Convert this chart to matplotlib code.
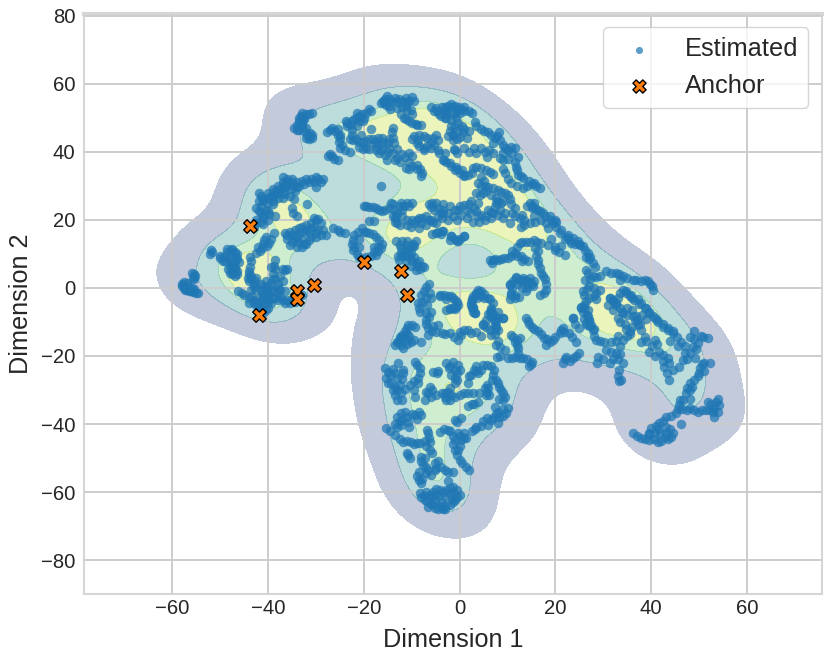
import numpy as np
import matplotlib
matplotlib.use("Agg")
import matplotlib.pyplot as plt
from matplotlib.colors import ListedColormap, BoundaryNorm
import seaborn as sns

# values, one list per part of the embedding
far_left = [(-58,1),(-57.5,0),(-57,1.5),(-57,-0.5),(-56.5,-1),(-56,0),(-55.8,-1.2),(-55,-1.5),(-56,4.5),(-55.3,3.5),(-55.5,2.5),
    (-58,0.5),(-57.3,-0.5),(-56.7,0.7),(-56,-0.8),(-55.5,-0.3),(-57.5,1.8),(-55.5,4),(-55.8,3),(-54.6,-1.5)]
left_small = [(-52,11),(-52.2,10),(-50,9.5),(-49.5,8),(-48.5,11.5),(-47.5,11.5),(-47,10.5),(-46.5,10),(-48,9),(-47.5,7),(-48,6),(-47.5,5),(-47,5.5),(-46.5,4),(-48,4.5),(-47,3.5),(-46,7.5),
    (-51.8,10.5),(-50,8.8),(-49.3,9),(-48.5,10.5),(-47.5,10),(-46.8,9),(-47,8),(-48,7.5),(-47,6),(-48.3,5.5),(-47.5,4),(-46.5,5),(-47.8,11),(-49,7.8),(-46.5,8.5)]
left_ring = [(-43.6,7.8),(-43.8,6),(-44,4),(-44.3,3),(-43.5,2.5),(-42.5,3),(-43,1),(-43.5,-0.5),(-41.5,1),(-40.5,2),(-39.5,1.5),(-40.5,-0.5),(-41,-1.5),(-40,-2.5),(-38,1),(-38,-1.5),(-39,-1),(-39,4),(-39.5,6),(-38.5,5.5),(-37.5,3.5),(-37,2),(-36.5,-0.8),
    (-46.4,-1),(-45,-2),(-44,-3),(-44,-4.5),(-43,-3.5),(-42.5,-5),(-42,-6),(-41,-5),(-40,-4),(-40,-6),(-41,-7.5),(-42,-7.5),(-39,-3),(-38,-3.5),(-37,-3.5),(-36,-3.5),(-35,-3.5),(-34,-3),(-33,-2),
    (-38.6,8.3),(-37,5.6),(-36,5.6),(-40.5,15),(-38.8,16),(-39.8,13.2),(-41.2,11.8),(-42.6,10.3),
    (-44,5),(-43.5,3.5),(-44,2),(-42.8,2),(-43,0.3),(-42.5,-0.5),(-41,0.5),(-40,0.5),(-41.5,-0.7),(-40,-1.5),(-39.5,-0.3),(-41,-2.5),(-39,2.5),(-38.5,2.5),(-38,0),(-37.5,-0.5),(-43.5,-2.5),(-43,-4.5),(-42,-4),(-41,-3.5),(-41.5,-6),(-40.5,-6.5),(-42,-3),(-40,-3.2),(-39.5,-4.5),(-38.5,-3),(-37.5,-2.8),(-36.5,-4.5),(-35.5,-4.3),(-34.5,-4),(-45.5,-1.5),(-40.8,14),(-40.2,12.2),(-41.8,10.8),(-42.2,12),(-41,13),(-39.5,14.5),(-38.7,6.5),(-36.5,5.2),(-43.8,9)]
left_arm = [(-43,18),(-42.5,20),(-41,21),(-42,22.5),(-41.5,24),(-40.5,23),(-40,25),(-39,27),(-40,28),(-39,29),(-38,30),(-37,31),(-36,32),(-36,30),(-35,29),(-34.5,28.5),(-37,28),(-38,26.5),(-41.5,27),(-42,28),(-39,24.5),(-40,20),(-38.5,21),(-39.8,21.6),
    (-34,31),(-33,31.5),(-32,32),(-31,32),(-30,32.5),(-28.5,32),(-30,29.5),(-37,30),(-35.5,27),(-34.6,26),(-35,23.5),(-34.8,22),(-31.8,24.5),(-33.9,21),
    (-42.5,19),(-41.5,19.5),(-41,20.5),(-41.5,22),(-42.5,23.5),(-42,25.5),(-41,25.5),(-40,26.5),(-41,26),(-38.5,27.5),(-39.5,27),(-38.5,28.5),(-37.5,29),(-36.5,29.5),(-35.5,30.5),(-35,31),(-37,32.5),(-36,31),(-35,32),(-34,29.5),(-33.5,30),(-32.5,30.5),(-31.5,31),(-29,31),(-29.5,32),(-30.5,31),(-38,28),(-37,26.5),(-39,25.5),(-36.5,27.5),(-40,22.5),(-41,18.8)]
left_block = [(-36.5,16),(-36,14.5),(-35,15.5),(-35,13.5),(-34.5,17),(-33.5,16),(-33,14.5),(-32.5,12.8),(-34,12),(-32,17),(-31.5,16.5),(-31,19),(-30,20),(-29,19),(-28.5,17),(-30,16),(-29,15.5),(-31,15),(-33,18),(-32,18.5),(-26.5,17.5),(-25.5,17),(-25,16.5),(-24,16),
    (-36,15.5),(-35.5,16.5),(-35.5,12.5),(-34.5,14.5),(-33.8,13.5),(-33.5,17.5),(-34,15),(-32.8,16.5),(-31.5,14),(-31,17.5),(-30.5,18),(-29.5,17),(-30,15),(-28,15.5),(-32,13),(-33,12),(-30.5,20.5),(-29.5,20.3)]
mid_ring = [(-22.5,13),(-22,15.5),(-20.5,17.5),(-19,16),(-17.5,15),(-16.3,13),(-17,10.8),(-18.5,9.5),(-20,8.5),(-21.5,10),(-22.3,11),(-21,12),(-18,12),(-19.5,16.5),(-17,12),(-18.9,19.6),(-17.9,19.7),
    (-22.3,14.2),(-21.3,16.5),(-20,16.5),(-18.2,15.8),(-16.8,14),(-16.5,11.8),(-17.5,9.8),(-19.5,9),(-21,9.2),(-22,12),(-21,14.5),(-18,10.5)]
mid_strand = [(-20,24),(-18.9,23.8),(-17.5,23.5),(-16.2,22.5),(-14.8,23.5),(-14.4,25),(-13,22),(-12.3,25),(-11,25),(-10,24.8),(-14,21),(-13,19),(-13.5,20.5),(-9.9,20),(-10.2,18),(-8.5,20.5),(-7.1,21),(-6,20),(-5,19),(-4,22),(-5.7,25),(-6.4,24.5),(-5.3,23),(-3.6,16.7),(-5,16.2),(-5.7,15.7),(-1.9,15.2),(-0.5,13.7),(0.9,15.2),(-16.5,30),
    (-19.5,24),(-18.2,23.7),(-16.8,23),(-15.5,23),(-13.7,23),(-14,24.5),(-13.3,21),(-13.5,19.5),(-12.5,24),(-11.7,24),(-10.5,24),(-12,23),(-12,21),(-12.5,18.5),(-11,20),(-11,18.5),(-9,20),(-8,19),(-7.8,20.5),(-6.5,20),(-5.5,19.5),(-4.5,21),(-3.8,20.5),(-6,23.7),(-5,25),(-4.5,23.5),(-8.5,17.5),(-9.5,19),(-7,18.5),(-4.5,16.5),(-4,15.8),(-1,14.3),(-2,14),(0,14.5),(-3.5,23),(-2.5,22),(-2.5,20),(-3.5,24.5),(-2,24),(-1,23),(-1.5,21)]
mid_block = [(-13.4,13.7),(-12,13.7),(-11,13.7),(-9.2,13.7),(-9.5,12.3),(-12.3,11.8),(-11.2,10.8),(-10.2,10.3),(-12,9.3),(-12.7,8.3),(-11.2,8.3),(-9.9,7.8),(-8.9,7.4),(-7.8,6.4),(-9.2,5.4),(-10.2,6.4),
    (-12.5,12.5),(-11,12.5),(-9.8,13),(-10.5,11.5),(-11.5,9.8),(-11,9.3),(-10.3,9),(-12.2,10.3),(-9.5,9),(-9,6.5),(-8.2,5.5),(-8.5,8),(-10,12),(-12.8,9.3),(-7.5,6)]
top_left = [(-30.8,51.5),(-32.2,51),(-33.2,50.5),(-32.9,48.5),(-33.9,48),(-34.6,47),(-33.6,46.5),(-32.2,47),(-31.9,45),(-30.8,44),(-31.5,43.6),(-32.5,49.5),
    (-31.5,51),(-32.8,49.5),(-33.5,49),(-33,47.5),(-34,46.5),(-32.5,46),(-32,44),(-31.2,45.5),(-33.5,50),(-33,51.3),(-30.8,45)]
top_arc = [(-27.8,45.8),(-26.6,47),(-25.5,46.6),(-24.9,45),(-25.2,43),(-24.9,41),(-23,40),(-27.6,38.7),(-26.6,38.7),(-25.5,37.7),(-23.8,49),(-22.8,48),(-22,49.5),(-21,50.5),(-19.6,51.5),(-18.5,52),(-21.4,51.5),(-20.3,49),(-23,43.6),(-21.7,43.6),(-20.3,43),(-18.9,43.6),(-17.5,43),(-16.2,44),(-14.8,43.6),(-13.7,42.6),(-13,40.7),(-14.8,41.2),(-16.2,41.7),(-16.9,39.7),(-15.1,37.7),(-13,38.2),(-12,39.2),(-9.9,38.7),(-11.2,35.3),(-9.9,35.8),(-8.9,36),(-7.8,33.8),(-20.3,40.7),(-18.9,40.7),(-20.7,45),(-22.4,45),(-18.6,46.6),
    (-16.5,54.4),(-15.1,56.4),(-15.8,54.4),(-14.1,54.9),(-12.7,55.4),(-11.3,55.9),(-9.9,56.2),(-14.8,53.4),(-13,52.9),(-11.3,53.4),(-10.2,52.4),(-12.3,51),(-11.2,49.5),(-9.9,48.5),(-8.9,48),(-14.1,45.8),(-8.5,45),(-6.8,44),(-5,45),(-9.9,43.6),(-8.5,41.7),(-6.8,41.7),(-5.4,42),
    (-27,46.5),(-26,46),(-25.5,45),(-25,44),(-24.5,42),(-26.2,38),(-27,39.2),(-24,40.5),(-23.5,48.5),(-22.5,49),(-21.5,50),(-20.5,51),(-20,50),(-19,52.5),(-21,49),(-21.5,47.5),(-22.5,46.5),(-23.5,47.5),(-22.3,43.5),(-21,43),(-19.5,43.2),(-18.2,43.8),(-17,44),(-16,42.8),(-15,42.5),(-14,44),(-17.3,41.5),(-16.5,40.5),(-15.5,39),(-15,40),(-14,39.5),(-13.5,37.5),(-12.5,37),(-11.5,38.5),(-10.5,39.5),(-10.5,37),(-10.5,35),(-9,35),(-8.2,35),(-8,32.8),(-19.5,41),(-21,41.5),(-18,42.5),(-17.5,40.5),
    (-16,55),(-15.5,55.5),(-14.7,55.5),(-13.5,55.8),(-13,54.5),(-12,54.8),(-11,54.5),(-10.5,55),(-9.5,54.8),(-15.3,53.7),(-14.5,52.5),(-12,53),(-11,52.3),(-10,51),(-11.7,50),(-10.6,49),(-9.2,48.2),(-8,47.8),(-14,47),(-7.5,44.5),(-8.8,43.5),(-9,42.5),(-7.5,41.2),(-6,43),(-5.5,44),(-4.5,43.5),(-9.5,44.5),(-7.5,40.5),(-6,41),(-4.5,40.5),(-3,39.5)]
top_mid = [(-5.4,52),(-4.3,51),(-3.6,53),(-1.9,53.9),(-0.5,52.4),(0.9,53),(-2.9,51),(-1,51),(-1.9,47.5),(-1.5,45),(-0.5,43.6),(0.9,46.6),(-1.2,40.7),(-4.3,39.7),(-3.3,37.7),(-1.9,35.8),(-0.5,34.8),(0.9,33.3),
    (-2.8,52),(-1.4,53),(0.3,52.7),(2,52),(-2.8,49.8),(-0.7,49.8),(-1,47.3),(0.7,45.9),(-1.4,44.9),(0,44.4),(3.1,48.8),(4.5,46.8),(5.9,45.9),(7.3,43.9),(8.3,45.9),(9,42),(10.8,41.5),(11.5,41),(1,41),(-1,40.5),(4.5,41),(6.2,40.5),(5.6,38.5),(9,39.5),(9,37.6),(12.2,38.5),(11.8,35.6),(12.2,33.2),(13.2,32.2),(15.6,30.7),(16.7,29.3),(13.2,29.3),(10.8,30.7),(9.4,33.7),
    (-6,53),(-5,52.8),(-4.7,52),(-3,53),(-3,52),(-2.5,53.5),(-1,53.5),(-1.5,51.5),(0,51.5),(-0.2,53),(1,52),(2.5,51.5),(-4,50.5),(-3,49.8),(-1.8,49.2),(-0.3,48.5),(-2,46),(-0.5,46),(0.5,47.5),(-2.5,44.5),(-1.5,43.5),(1.5,44),(2,46),(3.5,47.5),(5,46),(6.5,45),(7.8,44.5),(8.5,43.5),(7,42.5),(9.5,41),(10,40.5),(11,39.5),(3,41),(2,39.8),(-0.5,39.5),(3.5,39.5),(5.2,39.8),(7,39.7),(8.5,38.3),(10,38),(11.5,37),(12,34.5),(12.8,33),(14.5,31.5),(15,30.5),(16,30),(14,29.8),(12,30),(10,32),(9,34.8)]
band = [(-3.5,37.6),(-2.1,36.6),(-0.7,35.6),(0,33.7),(1.7,33.2),(2.8,35.1),(4.5,35.1),(6.3,34.1),(4.5,32.7),(3.8,30.7),(5.2,29.8),(6.9,29.3),(8.7,28.3),(10,27.3),(4.9,27.8),(4.2,27.3),(6.6,27.3),(8,25.4),(10.8,24.7),
    (-0.3,22.9),(1,24.4),(2.4,25.4),(3.8,24.9),(0.3,21.5),(2.1,22),(2.8,19.5),(3.8,21),(5.2,20),(7.3,23.9),(8.7,24.9),(6.6,22.4),(8,21.5),(9.4,22),(-3.5,22),
    (14.6,24.9),(15.6,24.9),(15,23.4),(16.3,22.9),(17.4,22),(18.8,21),(19.8,20),(20.2,18),(21.2,17),(19.1,14.3),(19.8,11.2),(21.2,12.2),(21.9,9.8),(12.5,20.5),(12.9,18),(14.6,19),
    (22.6,15.6),(23.6,14.6),(23.3,13.2),(24.7,13.7),(25.7,12.2),(26.8,10.2),(27.8,7.3),(26.4,9),(-3.5,16.6),(-1.8,15.1),(-0.3,13.7),(1,15.1),
    (-2.8,37),(-1,34.5),(0.5,34.5),(1,32.8),(2.5,33.8),(3.5,35.5),(5.5,34.5),(7,33.5),(5,31.5),(4.5,30),(6,29.5),(8,28.8),(9.5,27.8),(5.5,28.5),(3.5,28),(7.5,26.5),(9,25.5),(10.5,26),(11.5,23.5),
    (0,24),(1.5,23),(3,23.5),(1.5,20.5),(3.3,22.5),(2,24.5),(4.5,21.5),(4,19.5),(6,23),(7,22),(7.5,24.8),(8.5,23),(5.5,21),(9,20.5),(6.5,20.5),(-0.5,20),(11,22),(10.5,19),(11.5,21),
    (14,24),(15.2,24),(15.8,23.5),(16.8,22.5),(17.8,21),(19,20),(19.5,19),(20.2,19.5),(13,21.5),(13.5,20),(13.5,18.5),(15.5,21),(15.8,19.5),(17,20),(18,19),(18.5,17.5),(21,16),(18.5,12.5),(20,12),(20.8,10.5),(22.5,15),(23,14),(24,13),(25,13),(25.2,12.5),(26.2,11),(27,8.5),(27.3,9),(22,14.5),(28.2,6)]
centre = [(6.3,8.3),(7.3,8.5),(8.7,8.5),(10,8.8),(11.5,10.2),(12.5,13.2),(13.9,13.4),(15.6,14.1),(17,13.2),(12.9,9.3),(14.3,7.8),(16.3,10.7),(16.3,8.3),(16.7,5.9),(17.4,3.4),(18.1,-0.5),(16.7,-2),
    (11.8,2.9),(13.2,2.9),(14.6,2.9),(15.6,2),(12.2,1),(13.8,-1),(10.4,1),(15.3,0.5),(10.4,-3.2),(12.4,-2.6),(10.8,-1.5),
    (3.8,-0.5),(2.8,-2.4),(4.5,-2.4),(6.3,-3.2),(2.4,-4.9),(3.1,-7.3),(6.6,-5.9),(5.9,-7.8),(7.3,-8.3),(9,-8.8),(4.9,-10.7),(7.3,-12.2),
    (-2.8,-3.4),(-1.4,-2.9),(-2.1,-5.8),(-1,-6.3),(-4.2,-2.4),
    (7,8.2),(6.8,7.3),(8,8.3),(9.3,8.8),(10.8,9.5),(11,10.8),(12,12),(13,13.5),(14.7,13.5),(16.2,13.5),(12,9.5),(13.5,8.5),(13,8),(15.8,11.8),(16,9.5),(16.4,7),(17,4.5),(17.8,2.5),(18,1),(17.5,-1.5),(12.5,2),(13,2.3),(14,1.5),(15,1),(11.2,2),(14.5,1.8),(13,0),(14,0),(11,0),(11.5,-2),(11.5,-3),
    (3.3,-1.5),(3.6,-3),(5,-3),(2.5,-3.5),(2.8,-6),(2.5,-6),(6.3,-7),(6.5,-8.5),(8,-8.8),(5.5,-11.5),(5.5,-9.5),(7.5,-10),(8,-7),(7,-4.5)]
right_top = [(26.4,5.4),(27.8,3.4),(26.1,2.4),(29.2,3.4),(30.6,4.9),(32.7,4.4),(34,3.4),(36.2,2.4),(37.9,2),(39.3,2),(40.3,-0.5),
    (25.7,-1),(27.1,0.5),(29.2,-0.5),(28.5,-3.4),(26.4,-3.9),(25.4,-5.9),(26.4,-10.2),(23.6,-8.8),(27.3,-11.2),(26.8,-8.3),
    (31.3,-2.9),(32.7,-4.9),(34,-0.5),(35.5,-2.4),(37.2,-3.4),(38.9,-5.9),(40.3,-8.3),(42.4,-10.7),(44.5,-12.7),(33,-8.8),(34.8,-12.2),(36.9,-8.3),(37.6,-10.5),(33.4,2.4),
    (26.8,4.5),(27.2,2.5),(28.5,3.2),(31.5,4.5),(33.2,4),(35,3),(36.8,2.2),(38.6,2.2),(39.8,1),(40.2,0.7),(26,-2),(26.5,-0.2),(28,0),(28.5,-1.5),(28,-2.5),(27,-3),(26,-5),(25.8,-7),(26,-9),(27,-9.5),(26.6,-11),(28,-12),
    (32,-3.5),(33,-3),(33.5,-1.5),(34.8,-1.5),(36,-3),(37.8,-4.5),(39.5,-7),(41.3,-9.5),(43.5,-11.7),(33.5,-10),(34.5,-10.5),(35.5,-13.5),(37,-9.5),(38,-8),(39,-9),(33.8,-7),(32,-6.5),(31,-5),(35,-6),(36,-6.5)]
low_centre = [(-7,0.4),(-8,-2),(-6.3,-1.6),(-8.7,-4.5),(-8.3,-7),(-5.9,-7),(-7,-9.4),(-6.6,-11.9),(-4.5,-10.9),(-6.6,-13.8),(-3.8,-13.3),
    (-10.8,-10.9),(-11.5,-12.8),(-12.5,-14.3),(-13.6,-16.8),(-11.8,-17.7),(-12.9,-15.8),(-11.1,-15.3),(-10.1,-15.8),(-8,-15.8),(-9.4,-11.4),
    (-4.2,-2),(-2.4,-2.5),(-1,-3.5),(-1.4,-6),(-2.8,-6.5),(-0.3,-5),(-2.1,-13.3),(-0.3,-15.3),(1,-12.4),(2.4,-13.3),(0.3,-13.8),
    (2.8,-7),(3.5,-2),(4.5,-1),(5.9,-3),(2.4,-4.5),(3.1,-7.5),(6.6,-6.5),(7,-8.4),(7.3,-10.9),(4.9,-10.9),(8,-12.4),(6.6,-13.8),(9,-8.9),(4.5,-14),(7.6,-16.8),(9.4,-18.2),(7.8,-20.4),
    (10.8,-13.8),(12.5,-14.8),(11.5,-15.8),(12.2,-17.7),(11.8,-20.2),(10.1,-20.7),(13.2,-20.7),(15,-21.7),(14.5,-23),
    (13.9,-8.9),(15,-11.4),(16.3,-12.8),(17.7,-14.8),(19.5,-15.3),(20.9,-13.3),(21.6,-11.9),(22.9,-13.3),(24.3,-15.8),(18.1,-16.8),
    (22.3,-20.2),(21.6,-22.2),(23.6,-20.7),(25,-19.2),(23.6,-8.9),(25,-11.9),(10.4,0.9),(11.8,3.3),(13.9,2.4),(10.8,-2),
    (-7.5,-1),(-6.5,1),(-7,-3),(-7.8,-4),(-8.5,-5.8),(-6.8,-5),(-6,-3),(-7,-7.5),(-6.5,-8.5),(-7,-10.5),(-5.5,-11.3),(-5.8,-12.8),(-5,-13),(-10,-11),(-11,-11.8),(-12,-13.8),(-12.5,-15),(-13,-16),(-12.3,-16.8),(-11,-16.5),(-12,-14.5),(-10.5,-14),(-9.5,-15.3),(-11,-13.5),(-3.3,-2),(-1.8,-2.5),(-0.5,-4),(-0.8,-5.5),(-2,-6.3),(-3,-13.5),(-1.2,-14.5),(0,-13),(1.8,-12.5),(3.3,-13),(4,-1.3),(5,-1.7),(2.8,-5.5),(2.6,-3.3),(6.8,-7.5),(7.2,-9.5),(6.3,-12.5),(7.5,-11.5),(7.3,-13.5),(8,-15.5),(8.5,-17.5),(8.5,-20),(11.2,-14.5),(12,-15.3),(12,-16.8),(12.2,-19),(11,-20.5),(12.5,-20.5),(14,-21),(14.8,-22.5),(14.2,-9.8),(14.5,-10.5),(15.5,-12),(17,-13.5),(18.3,-15),(18.8,-15.8),(20,-14.5),(21.2,-12.5),(21.7,-13),(23.5,-14.5),(22,-21),(23,-21.5),(24.3,-20),(24,-10.5)]
right_low = [(28.9,-20.2),(31.3,-22.2),(33,-26),(33.7,-27),(32.7,-19.2),(30.6,-18.2),(34.1,-15.3),(25.4,-5.5),(26.8,-6.5),(27.1,-9.4),(27.8,-12.4),(28.5,-15.3),(30.2,-15.8),(32.7,-15.5),(35.5,-12.8),
    (31.3,-3),(32.7,-4.5),(34.1,-7.5),(36.2,-8.4),(37.2,-10.9),(38.6,-14.3),(34.8,-1),(36.5,-3.5),(38.6,-6),(40.7,-8.9),(42.4,-11.4),(44.5,-13.3),(46.2,-15.8),
    (40.7,-15.3),(39.6,-18.7),(41.7,-18.7),(43.4,-20.7),(42.7,-23.1),(43.8,-27),(45.9,-23.1),(49,-12.8),(51.8,-14.8),(50.4,-14),(49.7,-16.3),(48,-19.2),(49.2,-20.7),(46.6,-21.2),(52.2,-22.2),
    (50.1,-23.6),(49.7,-26),(48,-28),(47.3,-31),(48,-32.5),(45.9,-34.4),(45.2,-36.9),(43.1,-37.8),(41.7,-39.8),(40,-41.3),
    (48,-35.4),(49.7,-36.4),(51.5,-35.9),(53.2,-35.4),(53.9,-32.5),(54.2,-34.4),(51.8,-33.4),(53.2,-37.8),(46.2,-40),
    (36.2,-42.7),(37.9,-44.2),(39.6,-44.7),(41.4,-45.2),(42.8,-43.7),(44.2,-43.7),(40.7,-42.7),
    (28.7,-22),(30,-21),(32,-21),(33,-21),(33.5,-19.5),(31.5,-18.7),(33.5,-17),(34,-22),(33.3,-24),(33.3,-27.5),(26,-6),(26.5,-8),(27.5,-11),(28,-14),(29.3,-15.5),(31.5,-16),(33,-14),(35,-14),(36,-11.5),(32,-3.8),(33.5,-6),(35,-8),(36.7,-9.5),(37.8,-12.5),(39,-15.5),(37.8,-16),
    (35.7,-2.2),(37.5,-4.8),(39.5,-7.5),(41.5,-10),(43.5,-12.5),(45.3,-14.5),(47,-17),(44,-15.5),(45.5,-17),(47,-19),(41.2,-16.5),(40.2,-17.2),(40.7,-20),(42.5,-19.8),(43.8,-22),(43.3,-25),(42.5,-21.5),(44.5,-24),(48,-14.5),(49,-15),(50.8,-14.3),(49.3,-18),(48.7,-17.5),(47.5,-21),(51,-22),(50.5,-22.5),(51,-24.5),(50,-25),(49,-27),(48.5,-29),(47.5,-29.5),(48,-30),(46.7,-33),(46,-33),(45.5,-35.5),(44.2,-37.5),(42.5,-39),(41,-40.5),(39.5,-42.5),(41.5,-41.5),(43,-41),(44,-41.5),(46.5,-35.5),(47.5,-36),(49,-36),(50.5,-36),(52.3,-36),(53.5,-33.5),(53,-36.5),(52.5,-34),(54,-36.5),
    (37,-43.5),(38.8,-44.5),(40.5,-44.5),(42,-45),(43.5,-44.5),(41.8,-42.5),(43,-42.5),(39.5,-43),(44.5,-42.5)]
bottom_lobe = [(-15,-24.6),(-15.3,-26.6),(-13.6,-25.1),(-11.8,-25.1),(-14.3,-28),(-12.5,-28.5),(-13.6,-31.5),(-12.2,-31),(-9.4,-21.7),(-8.3,-23.6),(-8.7,-26.6),(-10.4,-28.5),(-9.4,-32),(-12.9,-22.2),
    (-5.6,-24.6),(-4.5,-24.3),(-2.8,-22.2),(-1.4,-21.7),(-1,-24.1),(0,-24.1),(-1,-26.6),(-6.3,-29),(-6.6,-31),(-4.9,-31.5),(-2.4,-30.5),(-2,-29.5),(-2.8,-33),(-7.3,-33),(-1,-32),
    (2.4,-25.6),(3.8,-25.1),(3.5,-23),(4.9,-22.6),(6.6,-23),(1.7,-28),(1,-31),(2.8,-31),(5.6,-28.5),(7.6,-27),(8.3,-29),(9,-31),(5.6,-30.5),(8.3,-32.5),
    (1.7,-34.7),(3.8,-33.4),(7.3,-34.9),(10.1,-35.4),(9.7,-36.9),(8.3,-37.8),(7,-38.3),(5.6,-38.3),(8,-39.8),(5.9,-40.3),(3.1,-41.6),
    (-12.2,-36.9),(-11.1,-37.8),(-9.4,-37.4),(-8,-37.4),(-12.2,-40.3),(-10.8,-39.3),(-13,-40.8),
    (-15.3,-41.3),(-13.6,-43.2),(-11.8,-45.2),(-10.1,-45.2),(-8.3,-45.7),(-6.6,-42.7),(-6.3,-45.2),(-11.1,-48.6),(-10.4,-50.1),(-8,-49.6),(-7.6,-52),(-6.3,-47.6),(-4.5,-51),
    (-1,-38.8),(0.3,-38.3),(-4.2,-42.3),(-2.4,-41.8),(-0.3,-42.7),(1,-42.7),(-1,-44.7),(0.3,-44.7),(-0.3,-47.6),(0,-50.6),(1.4,-52.5),
    (-6.6,-53.5),(-5.2,-53.5),(-3.1,-53.5),(-1.4,-54),(-8.9,-55.3),(-8,-57.4),(-2.4,-56.7),
    (-8.3,-60.4),(-7.3,-62.4),(-6.6,-64.5),(-5.2,-64.8),(-3.5,-65.1),(-2.1,-63.8),(-1,-62.4),(0,-60.9),(-1.4,-58.4),(-2.8,-59.4),(-4.2,-59.4),(-5.6,-59.9),(-5.2,-62.4),(-3.8,-62.8),
    (-14.5,-25.5),(-15,-28),(-13,-26.5),(-12,-26.8),(-13.5,-29),(-14,-30),(-13,-30),(-11.5,-29.8),(-12,-33),(-13,-33),(-11.8,-24),(-9,-22.7),(-8.2,-25),(-9.5,-30),(-8.7,-27.8),(-9.5,-27.5),(-14,-23.8),(-15.5,-23.5),(-4.8,-25),
    (-2.2,-23.5),(-1.8,-25.5),(-0.5,-25),(-1,-28),(-0.5,-27),(-2,-23),(-0.3,-22.7),(-5.8,-30),(-7,-30.5),(-6,-32),(-3.8,-31),(-3,-32),(-3,-31),(-1.8,-31.5),(0,-31.5),(-2,-33),(3,-24),(2,-26),(4.5,-24),(5.7,-22.7),(7.2,-24),(7,-25.5),(6.8,-27),(8,-28),(8.6,-30),(9.5,-32),(9,-33),(6,-29.5),(5.2,-29.5),(5.5,-31.5),(6.2,-31.5),(3.3,-24.5),(1.8,-31),(4,-31),(2.5,-34),(3,-34),(8,-36.5),(9,-35.7),(9,-37.5),(6.5,-38.7),(7.5,-37),(4.8,-39),(3.5,-41),(2.5,-42),(4.5,-40.7),
    (-13,-37.8),(-12,-38.8),(-11.5,-36.5),(-10,-37),(-9,-38.5),(-8.5,-36.5),(-10.5,-41),(-12.5,-39),(-13.5,-40),(-14.5,-42),(-12.5,-44.5),(-11,-45),(-9,-45.5),(-9.5,-46),(-7.3,-45),(-6.5,-44),(-6.8,-41.8),(-7,-46.5),(-10.8,-49),(-8,-51),(-7.3,-50),(-5.2,-51.5),(-5.8,-48.5),(-5,-53),(-4,-52.5),(-2.5,-54),(-7,-52.5),(-8.5,-54),(-7.8,-56),(-7,-54.5),(-6,-55),(-8.5,-56.5),
    (-0.5,-39.5),(-2,-42),(-3.3,-41.5),(-1.5,-43.5),(0,-43.5),(-1.5,-46),(0,-46.5),(0.8,-44),(-1,-47.5),(-0.5,-49),(0.5,-51.5),(2,-53.5),(1.3,-44),
    (-8,-61.5),(-7.5,-61),(-6.8,-62.5),(-6,-61),(-6,-63.5),(-5,-60.5),(-4.5,-61),(-4,-64),(-3,-64),(-3,-61.5),(-2,-60.5),(-1.7,-62),(-1.5,-60),(-0.5,-59.5),(-0.5,-61.5),(-2,-58.7),(-3.5,-60),(-5.5,-63.5),(-7,-60),(-4.5,-65),(-3,-65),(-1.5,-63),(-6.3,-60.8),(-5,-59)]

anchor_x = [-43.9, -42, -34, -34, -30.5, -20, -12.2, -11]
anchor_y = [18.3, -8, -1, -3.3, 0.8, 7.5, 5, -2]

estimated = np.array(far_left + left_small + left_ring + left_arm + left_block + mid_ring + mid_strand
                     + mid_block + top_left + top_arc + top_mid + band + centre + right_top
                     + low_centre + right_low + bottom_lobe)

sns.set_style("whitegrid")
plt.rcParams['font.family'] = ['Liberation Sans', 'DejaVu Sans']

fig, ax = plt.subplots(figsize=(8.3, 6.61), dpi=100)
fig.subplots_adjust(left=0.101, right=0.990, top=0.979, bottom=0.101)

band_colors = ListedColormap(["#3b528b", "#21918c", "#5ec962", "#bde020"])
sns.kdeplot(x=estimated[:, 0], y=estimated[:, 1], fill=True, levels=[0.05, 0.22, 0.5, 0.76, 1.0],
            cmap=band_colors, alpha=0.3, bw_adjust=0.9, ax=ax, zorder=1)
# one flat colour per band, whatever the density values are
kde = ax.collections[0]
kde.set_norm(BoundaryNorm(kde.levels, 4))
kde.set_cmap(band_colors)
kde.set_edgecolor("none")
kde.set_linewidth(0)

ax.scatter(estimated[:, 0], estimated[:, 1], s=47, c="#1f77b4", alpha=0.72, linewidths=0, label="Estimated", zorder=3)
ax.scatter(anchor_x, anchor_y, s=95, c="#ff7f0e", marker="X", edgecolors="black", linewidths=1, label="Anchor", zorder=4)

ax.set_xlim(-78.5, 75.6)
ax.set_ylim(-90, 80.5)
ax.set_xticks(range(-60, 61, 20))
ax.set_yticks(range(-80, 81, 20))
ax.grid(True, color="#cccccc", lw=1.4)
ax.set_axisbelow(False)
for s in ax.spines.values():
    s.set_color("#d6d6d6")
    s.set_linewidth(1.5)
ax.spines['top'].set_linewidth(3)
ax.tick_params(labelsize=14.6, length=0, colors="#262626")
ax.tick_params(axis='y', pad=6)
ax.set_xlabel("Dimension 1", fontsize=18.2, labelpad=7, color="#262626")
ax.set_ylabel("Dimension 2", fontsize=18.2, labelpad=6, color="#262626")
leg = ax.legend(loc="upper right", fontsize=18.3, frameon=True, borderaxespad=0.52)
leg.legend_handles[0].set_sizes([26])
leg.legend_handles[1].set_sizes([90])
fig.savefig("out.png", dpi=100)
